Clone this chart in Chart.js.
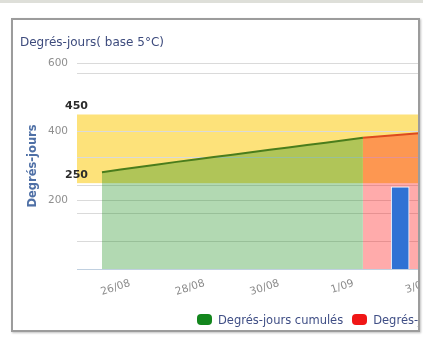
<!DOCTYPE html>
<html>
<head>
<meta charset="utf-8">
<script src="https://cdn.jsdelivr.net/npm/chart.js@4.4.1/dist/chart.umd.min.js"></script>
<style>
  html, body { margin: 0; padding: 0; background: #fff; width: 423px; height: 340px; overflow: hidden; }
  #topbar { position: absolute; left: 0; top: 0; width: 423px; height: 3px; background: #dedfd9; }
  #frame { position: absolute; left: 11px; top: 18px; width: 405px; height: 310px;
           border: 2px solid #9c9c9c; overflow: hidden; background: #fff;
           box-shadow: 1px 1px 2px rgba(0,0,0,0.25); }
  #wrap { position: absolute; left: 0; top: 0; width: 470px; height: 310px; }
  #legend { position: absolute; left: 184px; top: 293px; white-space: nowrap;
            font: 11.5px "DejaVu Sans", sans-serif; color: #3f4e85; line-height: 14px; }
  #legend .item { display: inline-block; margin-right: 9px; }
  #legend .sw { display: inline-block; width: 15px; height: 11px; border-radius: 4px;
                vertical-align: -1px; margin-right: 6px; }
</style>
</head>
<body>
<div id="topbar"></div>
<div id="frame">
  <div id="wrap"><canvas id="c" width="470" height="310"></canvas></div>
  <div id="legend"></div>
</div>
<script>
// Days are counted from 26/08 (day 0); readings are taken once a day.
const cumulDays     = [-0.75, 0.25, 1.25, 2.25, 3.25, 4.25, 5.25, 6.25];
const cumulValues   = [282, 297, 312, 326, 340, 354, 368, 382];
const forecastDays  = [6.25, 7.25, 8.25];
const forecastValues= [382, 391, 400];
const dailyDays     = [7.25];
const dailyValues   = [14.7];

const xTickDays   = [0, 2, 4, 6, 8];
const xTickLabels = ['26/08', '28/08', '30/08', '1/09', '3/09'];
const yTicks      = [0, 200, 400, 600];
const y2GridTicks = [5, 10, 15, 20, 35];
const targetBand  = [250, 450];

const seriesNames  = ['Degrés-jours cumulés', 'Degrés-jours prévus', 'Degrés-jours quotidiens'];
const seriesColors = ['#13861d', '#f01616', '#2f72d4'];
const chartTitle   = 'Degrés-jours( base 5°C)';
const yAxisTitle   = 'Degrés-jours';

const toXY = (xs, ys) => xs.map((x, i) => ({ x: x, y: ys[i] }));

Chart.defaults.font.family = '"DejaVu Sans", sans-serif';

// Yellow target band behind the grid, with its bound labels on top.
const bandPlugin = {
  id: 'targetBand',
  beforeDraw(chart) {
    const { ctx, chartArea: a, scales: { y } } = chart;
    const top = y.getPixelForValue(targetBand[1]);
    const bot = y.getPixelForValue(targetBand[0]);
    ctx.save();
    ctx.fillStyle = '#fde27a';
    ctx.fillRect(a.left, top, a.right - a.left, bot - top);
    ctx.restore();
  },
  afterDraw(chart) {
    const { ctx, scales: { y } } = chart;
    ctx.save();
    ctx.font = 'bold 11px "DejaVu Sans", sans-serif';
    ctx.fillStyle = '#2b2b2b';
    ctx.textBaseline = 'middle';
    ctx.textAlign = 'left';
    targetBand.forEach(v => {
      ctx.fillText(String(v), 52, y.getPixelForValue(v) - 8);
    });
    ctx.restore();
  }
};

new Chart(document.getElementById('c'), {
  data: {
    datasets: [
      {
        type: 'bar', label: seriesNames[2], yAxisID: 'y2', order: 0,
        data: toXY(dailyDays, dailyValues),
        backgroundColor: seriesColors[2], borderColor: '#ffffff', borderWidth: 1,
        barThickness: 18
      },
      {
        type: 'line', label: seriesNames[0], yAxisID: 'y', order: 1,
        data: toXY(cumulDays, cumulValues),
        borderColor: '#4a7d1c', borderWidth: 2,
        backgroundColor: 'rgba(20,140,20,0.33)', fill: 'origin',
        pointRadius: 0, tension: 0.2
      },
      {
        type: 'line', label: seriesNames[1], yAxisID: 'y', order: 2,
        data: toXY(forecastDays, forecastValues),
        borderColor: '#dc4a1e', borderWidth: 2,
        backgroundColor: 'rgba(255,0,0,0.33)', fill: 'origin',
        pointRadius: 0, tension: 0
      }
    ]
  },
  options: {
    responsive: false,
    animation: false,
    layout: { padding: { left: 7, right: 15, top: 0, bottom: 0 } },
    plugins: {
      legend: { display: false },
      tooltip: { enabled: false },
      title: {
        display: true, text: chartTitle, align: 'start',
        color: '#3d4b7d', font: { size: 12, weight: 'normal' },
        padding: { top: 16, bottom: 12.6 }
      }
    },
    scales: {
      x: {
        type: 'linear', min: -1.42, max: 9.07, offset: false,
        afterBuildTicks: s => { s.ticks = xTickDays.map(v => ({ value: v })); },
        afterFit: s => { s.height = 61; },
        ticks: {
          autoSkip: false, minRotation: 18, maxRotation: 18, padding: 8,
          color: '#8a8a8a', font: { size: 10.5 },
          callback: (v) => xTickLabels[xTickDays.indexOf(v)]
        },
        grid: { display: false, drawTicks: false, offset: false },
        border: { display: true, color: '#c0d0e0', width: 1 }
      },
      y: {
        position: 'left', min: 0, max: 600,
        afterBuildTicks: s => { s.ticks = yTicks.map(v => ({ value: v })); },
        afterFit: s => { s.width = 57; },
        ticks: {
          padding: 9, color: '#8f8f8f', font: { size: 10.5 },
          callback: v => (v === 0 ? '' : String(v))
        },
        grid: {
          drawTicks: false,
          color: ctx => (ctx.tick && ctx.tick.value === 0 ? 'rgba(0,0,0,0)' : '#dadada')
        },
        border: { display: false },
        title: {
          display: true, text: yAxisTitle, color: '#4f70a6',
          font: { size: 11.5, weight: 'bold' }, padding: { top: 6, bottom: 0 }
        }
      },
      y2: {
        position: 'right', min: 0, max: 36.8,
        afterBuildTicks: s => { s.ticks = y2GridTicks.map(v => ({ value: v })); },
        afterFit: s => { s.width = 0; },
        ticks: { display: false },
        grid: { drawTicks: false, color: '#dadada' },
        border: { display: false }
      }
    }
  },
  plugins: [bandPlugin]
});

// Legend row under the plot
const legend = document.getElementById('legend');
seriesNames.forEach((name, i) => {
  const item = document.createElement('span');
  item.className = 'item';
  const sw = document.createElement('span');
  sw.className = 'sw';
  sw.style.background = seriesColors[i];
  item.appendChild(sw);
  item.appendChild(document.createTextNode(name));
  legend.appendChild(item);
});
</script>
</body>
</html>
